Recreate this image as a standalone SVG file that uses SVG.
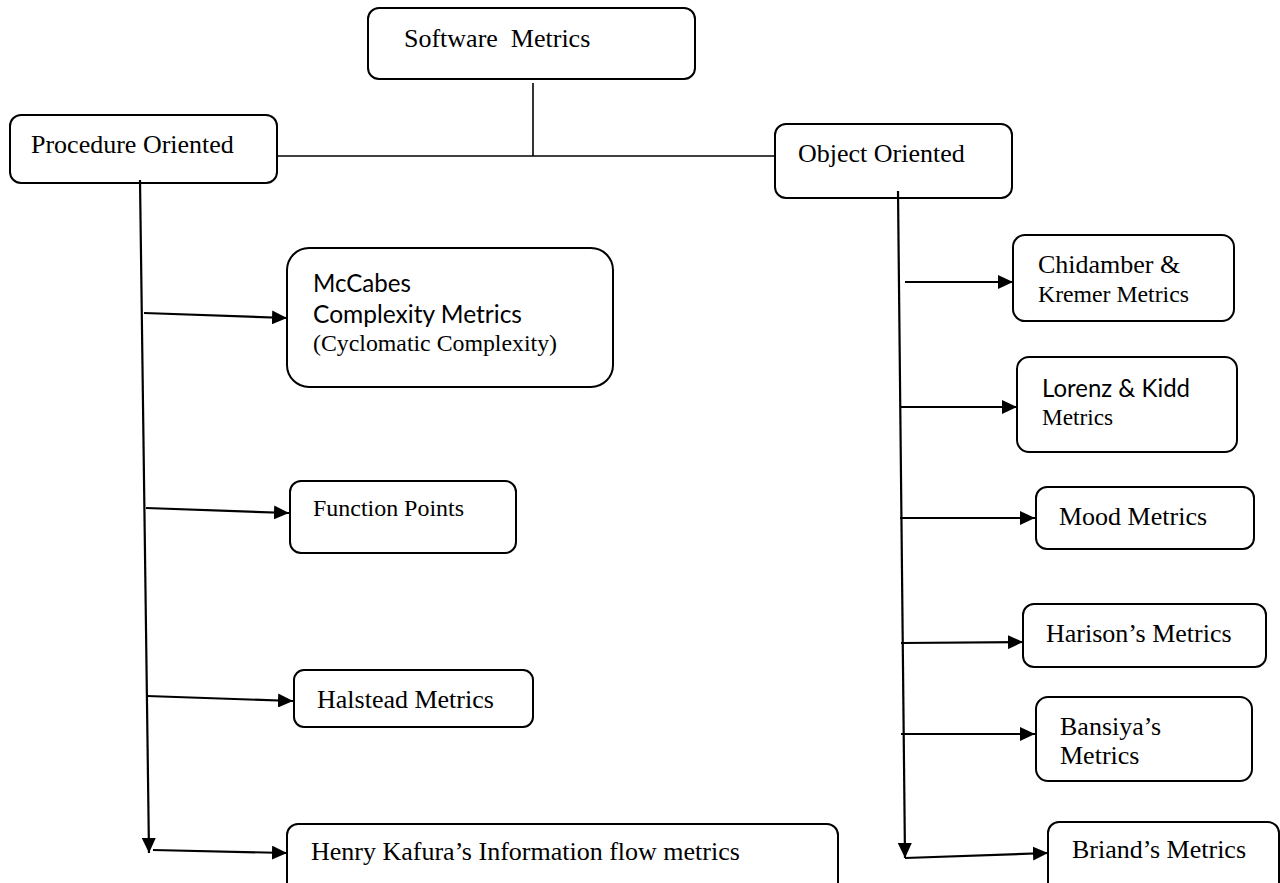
<svg xmlns="http://www.w3.org/2000/svg" width="1280" height="883" viewBox="0 0 1280 883">
<style>
  .box { fill: #ffffff; stroke: #000000; stroke-width: 2; }
  .t { font-family: "Liberation Serif", "Times New Roman", serif; font-size: 26px; fill: #000000; white-space: pre; }
  .s { font-family: Lato, "Open Sans", "Liberation Sans", sans-serif; font-size: 25px; fill: #000000; }
  .ln { fill: none; stroke: #000000; stroke-width: 2; }
  .thin { fill: none; stroke: #000000; stroke-width: 1.6; }
  .ar { fill: none; stroke: #000000; stroke-width: 2.2; marker-end: url(#ah); }
</style>
<defs>
  <marker id="ah" markerUnits="userSpaceOnUse" markerWidth="16" markerHeight="14" refX="15" refY="7" orient="auto">
    <path d="M0,0 L15,7 L0,14 Z" fill="#000000"/>
  </marker>
</defs>
<rect width="1280" height="883" fill="#ffffff"/>

<g id="n-software">
  <rect class="box" x="368" y="8" width="327" height="71" rx="11"/>
  <text class="t" x="404" y="47">Software  Metrics</text>
</g>
<g id="n-procedure">
  <rect class="box" x="10" y="115" width="267" height="68" rx="11"/>
  <text class="t" x="31" y="153">Procedure Oriented</text>
</g>
<g id="n-object">
  <rect class="box" x="775" y="124" width="237" height="74" rx="11"/>
  <text class="t" x="798" y="162">Object Oriented</text>
</g>
<g id="n-mccabes">
  <rect class="box" x="287" y="248" width="326" height="139" rx="22"/>
  <text class="s" x="313" y="292" textLength="98" lengthAdjust="spacingAndGlyphs">McCabes</text>
  <text class="s" x="313" y="323" textLength="209" lengthAdjust="spacingAndGlyphs">Complexity Metrics</text>
  <text class="t" x="313" y="351" style="font-size:24px" textLength="244" lengthAdjust="spacingAndGlyphs">(Cyclomatic Complexity)</text>
</g>
<g id="n-function">
  <rect class="box" x="290" y="481" width="226" height="72" rx="11"/>
  <text class="t" x="313" y="516" style="font-size:24px" textLength="151" lengthAdjust="spacingAndGlyphs">Function Points</text>
</g>
<g id="n-halstead">
  <rect class="box" x="294" y="670" width="239" height="57" rx="10"/>
  <text class="t" x="317" y="708">Halstead Metrics</text>
</g>
<g id="n-henry">
  <rect class="box" x="287" y="824" width="551" height="74" rx="11"/>
  <text class="t" x="311" y="860">Henry Kafura’s Information flow metrics</text>
</g>
<g id="n-chidamber">
  <rect class="box" x="1013" y="235" width="221" height="86" rx="12"/>
  <text class="t" x="1038" y="273">Chidamber &amp;</text>
  <text class="t" x="1038" y="302" style="font-size:24px" textLength="151" lengthAdjust="spacingAndGlyphs">Kremer Metrics</text>
</g>
<g id="n-lorenz">
  <rect class="box" x="1017" y="357" width="220" height="95" rx="12"/>
  <text class="s" x="1042" y="397" textLength="148" lengthAdjust="spacingAndGlyphs">Lorenz &amp; Kidd</text>
  <text class="t" x="1042" y="425" style="font-size:24px" textLength="71" lengthAdjust="spacingAndGlyphs">Metrics</text>
</g>
<g id="n-mood">
  <rect class="box" x="1036" y="487" width="218" height="62" rx="11"/>
  <text class="t" x="1059" y="525">Mood Metrics</text>
</g>
<g id="n-harison">
  <rect class="box" x="1023" y="604" width="243" height="63" rx="11"/>
  <text class="t" x="1046" y="642">Harison’s Metrics</text>
</g>
<g id="n-bansiya">
  <rect class="box" x="1036" y="697" width="216" height="84" rx="12"/>
  <text class="t" x="1060" y="735">Bansiya’s</text>
  <text class="t" x="1060" y="764">Metrics</text>
</g>
<g id="n-briand">
  <rect class="box" x="1048" y="822" width="231" height="74" rx="11"/>
  <text class="t" x="1072" y="858">Briand’s Metrics</text>
</g>

<g id="connectors">
  <line class="thin" x1="533" y1="83" x2="533" y2="156"/>
  <line class="thin" x1="277" y1="156" x2="775" y2="156"/>
  <line class="ar" x1="140" y1="180" x2="149" y2="853"/>
  <line class="ar" x1="898" y1="191" x2="905" y2="858"/>
  <line class="ar" x1="144" y1="313" x2="287" y2="318"/>
  <line class="ar" x1="146" y1="508" x2="289" y2="513"/>
  <line class="ar" x1="147" y1="696" x2="293" y2="701"/>
  <line class="ar" x1="153" y1="850" x2="287" y2="853"/>
  <line class="ar" x1="905" y1="282" x2="1013" y2="282"/>
  <line class="ar" x1="901" y1="407" x2="1017" y2="407"/>
  <line class="ar" x1="900" y1="518" x2="1035" y2="518"/>
  <line class="ar" x1="901" y1="643" x2="1023" y2="642"/>
  <line class="ar" x1="901" y1="734" x2="1035" y2="734"/>
  <line class="ar" x1="905" y1="858" x2="1048" y2="853"/>
</g>
</svg>
